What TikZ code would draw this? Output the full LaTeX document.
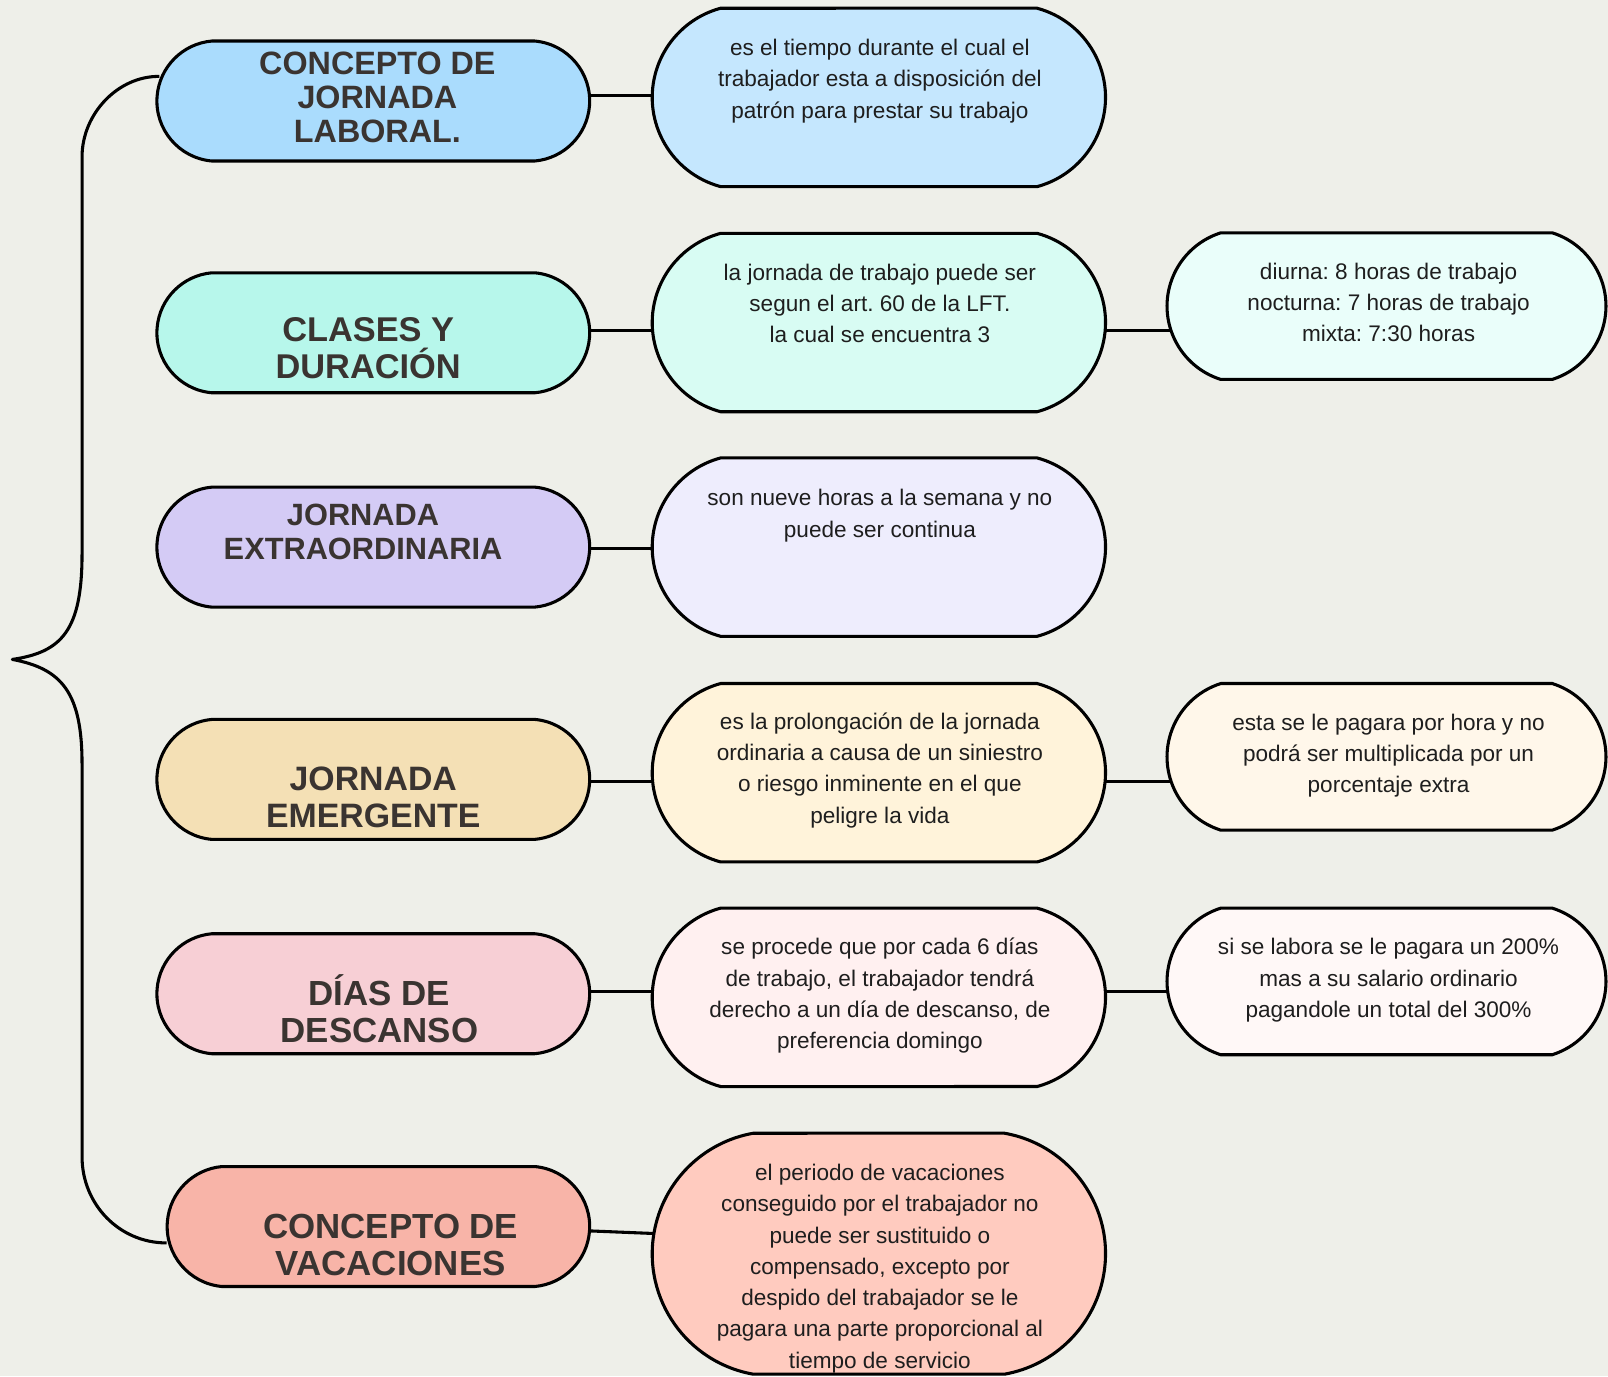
\documentclass[tikz,border=0pt]{standalone}
\usepackage{fontspec}
\setmainfont{Liberation Sans}
\usetikzlibrary{shapes.misc,calc,backgrounds}
\definecolor{bg}{HTML}{EEEFE9}
\definecolor{titlec}{HTML}{3A3431}
\definecolor{bodyc}{HTML}{1E1E1E}
\definecolor{cA}{HTML}{AADCFD}\definecolor{cAm}{HTML}{C5E7FE}
\definecolor{cB}{HTML}{B7F7EB}\definecolor{cBm}{HTML}{D8FCF3}\definecolor{cBr}{HTML}{EAFEFA}
\definecolor{cC}{HTML}{D4CBF5}\definecolor{cCm}{HTML}{EEEDFD}
\definecolor{cD}{HTML}{F4E0B5}\definecolor{cDm}{HTML}{FFF3DA}\definecolor{cDr}{HTML}{FFF7EA}
\definecolor{cE}{HTML}{F7CFD5}\definecolor{cEm}{HTML}{FFF0F0}\definecolor{cEr}{HTML}{FFF8F7}
\definecolor{cF}{HTML}{F8B4A8}\definecolor{cFm}{HTML}{FFCBBF}
\newcommand\tline[1]{\smash{#1}\strut}
\frenchspacing
\begin{document}
\begin{tikzpicture}[x=1pt,y=-1pt,
  lbox/.style={rounded rectangle, rounded rectangle arc length=170, draw=black, line width=3pt,
    minimum width=422pt, minimum height=117pt, inner sep=0pt},
  mbox/.style={rounded rectangle, rounded rectangle arc length=150, draw=black, line width=3pt,
    minimum width=442pt, minimum height=174pt, inner sep=0pt},
  rbox/.style={rounded rectangle, rounded rectangle arc length=145, draw=black, line width=3pt,
    minimum width=428pt, minimum height=143pt, inner sep=0pt},
  title/.style={text=titlec, align=center, inner sep=0pt, anchor=north},
  body/.style={font=\fontsize{22}{30.5}\selectfont, text=bodyc, align=center, inner sep=0pt, anchor=north},
  conn/.style={line width=3pt, draw=black}]
\begin{scope}[on background layer]
\fill[bg] (0,0) rectangle (1568,1342);
\end{scope}
\useasboundingbox (0,0) rectangle (1568,1342);

% left column
\node[lbox, fill=cA] (b1) at (364,98.5) {};
\node[lbox, fill=cB] (b2) at (364,324.5) {};
\node[lbox, fill=cC] (b3) at (364,533.5) {};
\node[lbox, fill=cD] (b4) at (364,760) {};
\node[lbox, fill=cE] (b5) at (364,969) {};
\node[lbox, fill=cF, minimum width=412pt] (b6) at (369,1196) {};

% middle column
\node[mbox, fill=cAm] (m1) at (857,95) {};
\node[mbox, fill=cBm] (m2) at (857,314.5) {};
\node[mbox, fill=cCm] (m3) at (857,533.5) {};
\node[mbox, fill=cDm] (m4) at (857,753.5) {};
\node[mbox, fill=cEm] (m5) at (857,972.5) {};
\node[mbox, fill=cFm, minimum height=235pt, rounded rectangle arc length=160] (m6) at (857,1222.5) {};

% right column
\node[rbox, fill=cBr] (r2) at (1352,298.5) {};
\node[rbox, fill=cDr] (r4) at (1352,738) {};
\node[rbox, fill=cEr] (r5) at (1352,957) {};

% connectors (behind the boxes)
\begin{scope}[on background layer]
\draw[conn] ([xshift=-8pt]b1.east |- 0,93) -- ([xshift=8pt]m1.west |- 0,93);
\draw[conn] ([xshift=-8pt]b2.east |- 0,322) -- ([xshift=8pt]m2.west |- 0,322);
\draw[conn] ([xshift=-8pt]m2.east |- 0,322) -- ([xshift=8pt]r2.west |- 0,322);
\draw[conn] ([xshift=-8pt]b3.east |- 0,535) -- ([xshift=8pt]m3.west |- 0,535);
\draw[conn] ([xshift=-8pt]b4.east |- 0,762) -- ([xshift=8pt]m4.west |- 0,762);
\draw[conn] ([xshift=-8pt]m4.east |- 0,762) -- ([xshift=8pt]r4.west |- 0,762);
\draw[conn] ([xshift=-8pt]b5.east |- 0,967) -- ([xshift=8pt]m5.west |- 0,967);
\draw[conn] ([xshift=-8pt]m5.east |- 0,967) -- ([xshift=8pt]r5.west |- 0,967);
\draw[conn] ([xshift=-8pt]b6.east |- 0,1200) -- ([xshift=8pt]m6.west |- 0,1203);
\end{scope}

% brace
\draw[conn, line join=round] ($(b1.west)+(4,-24)$) .. controls (115,74) and (80,111) .. (80,153)
  -- (80,540) .. controls (80,615) and (60,636) .. (12,643)
  .. controls (60,652) and (80,675) .. (80,745)
  -- (80,1128) .. controls (80,1174) and (116,1212) .. ($(b6.west)+(1,16)$);

% titles
\node[title, font=\bfseries\fontsize{31.5}{33}\selectfont] (t1) at (368,49.2)
  {\tline{CONCEPTO DE}\\\tline{JORNADA}\\\tline{LABORAL.}};
\node[title, font=\bfseries\fontsize{33.5}{36}\selectfont] (t2) at (359,307.8)
  {\tline{CLASES Y}\\\tline{DURACIÓN}};
\node[title, font=\bfseries\fontsize{30}{33}\selectfont] (t3) at (354,489.6)
  {\tline{JORNADA}\\\tline{EXTRAORDINARIA}};
\node[title, font=\bfseries\fontsize{33}{36}\selectfont] (t4) at (364,745.6)
  {\tline{JORNADA}\\\tline{EMERGENTE}};
\node[title, font=\bfseries\fontsize{34}{36}\selectfont] (t5) at (370,955)
  {\tline{DÍAS DE}\\\tline{DESCANSO}};
\node[title, font=\bfseries\fontsize{34}{36}\selectfont] (t6) at (381,1182)
  {\tline{CONCEPTO DE}\\\tline{VACACIONES}};

% body texts
\node[body] (m1t) at (858,32.6)
  {\tline{es el tiempo durante el cual el}\\\tline{trabajador esta a disposición del}\\\tline{patrón para prestar su trabajo}};
\node[body] (m2t) at (858,251.7)
  {\tline{la jornada de trabajo puede ser}\\\tline{segun el art. 60 de la LFT.}\\\tline{la cual se encuentra 3}};
\node[body] (m3t) at (858,471.6)
  {\tline{son nueve horas a la semana y no}\\\tline{puede ser continua}};
\node[body] (m4t) at (858,689.6)
  {\tline{es la prolongación de la jornada}\\\tline{ordinaria a causa de un siniestro}\\\tline{o riesgo inminente en el que}\\\tline{peligre la vida}};
\node[body] (m5t) at (858,909.6)
  {\tline{se procede que por cada 6 días}\\\tline{de trabajo, el trabajador tendrá}\\\tline{derecho a un día de descanso, de}\\\tline{preferencia domingo}};
\node[body] (m6t) at (858,1129.6)
  {\tline{el periodo de vacaciones}\\\tline{conseguido por el trabajador no}\\\tline{puede ser sustituido o}\\\tline{compensado, excepto por}\\\tline{despido del trabajador se le}\\\tline{pagara una parte proporcional al}\\\tline{tiempo de servicio}};
\node[body] (r2t) at (1354,250.6)
  {\tline{diurna: 8 horas de trabajo}\\\tline{nocturna: 7 horas de trabajo}\\\tline{mixta: 7:30 horas}};
\node[body] (r4t) at (1354,690.6)
  {\tline{esta se le pagara por hora y no}\\\tline{podrá ser multiplicada por un}\\\tline{porcentaje extra}};
\node[body] (r5t) at (1354,909.6)
  {\tline{si se labora se le pagara un 200\%}\\\tline{mas a su salario ordinario}\\\tline{pagandole un total del 300\%}};
\end{tikzpicture}
\end{document}
